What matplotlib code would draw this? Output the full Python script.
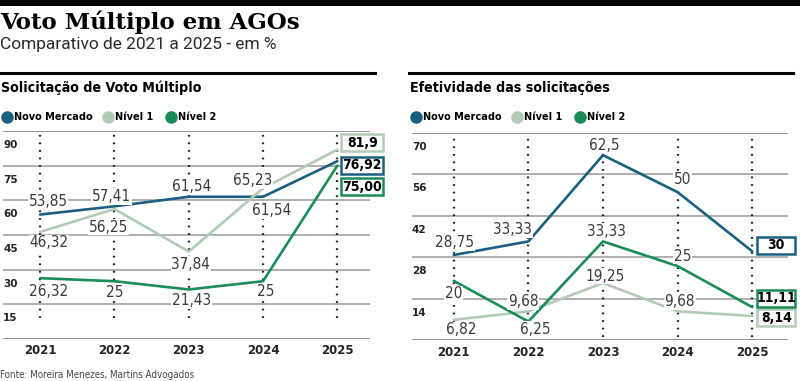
import matplotlib
matplotlib.use("Agg")
import matplotlib.pyplot as plt
from matplotlib import font_manager
from matplotlib.font_manager import FontProperties
from matplotlib.patches import Rectangle
from matplotlib.transforms import IdentityTransform

# ---- data ----
years = [2021, 2022, 2023, 2024, 2025]

# Solicitação de Voto Múltiplo (%)
sol_novo = [53.85, 57.41, 61.54, 61.54, 76.92]
sol_nivel1 = [46.32, 56.25, 37.84, 65.23, 81.9]
sol_nivel2 = [26.32, 25.0, 21.43, 25.0, 75.0]
sol_labels_novo = ["53,85", "57,41", "61,54", "61,54", "76,92"]
sol_labels_n1 = ["46,32", "56,25", "37,84", "65,23", "81,9"]
sol_labels_n2 = ["26,32", "25", "21,43", "25", "75,00"]

# Efetividade das solicitações (%)
efe_novo = [28.75, 33.33, 62.5, 50.0, 30.0]
efe_nivel1 = [6.82, 9.68, 19.25, 9.68, 8.14]
efe_nivel2 = [20.0, 6.25, 33.33, 25.0, 11.11]
efe_labels_novo = ["28,75", "33,33", "62,5", "50", "30"]
efe_labels_n1 = ["6,82", "9,68", "19,25", "9,68", "8,14"]
efe_labels_n2 = ["20", "6,25", "33,33", "25", "11,11"]

sol_ticks = [15, 30, 45, 60, 75, 90]
efe_ticks = [14, 28, 42, 56, 70]

# ---- style ----
C_NOVO = "#1b5f80"
C_N1 = "#b2cbb4"
C_N2 = "#1a8c56"

# find some condensed face on the system (fallback: DejaVu Sans)
fonts = font_manager.fontManager.ttflist


def narrow_face(bold):
    best = None
    for f in fonts:
        narrow = ("Narrow" in f.name or "Condensed" in f.name or
                  str(f.stretch) in ("condensed", "semi-condensed", "extra-condensed"))
        if not narrow or "Mono" in f.name or f.style != "normal":
            continue
        w = f.weight if isinstance(f.weight, int) else (700 if f.weight == "bold" else 400)
        if (w >= 600) != bold:
            continue
        score = abs(w - (700 if bold else 400))
        if best is None or score < best[0]:
            best = (score, f.fname)
    if best:
        return FontProperties(fname=best[1])
    return FontProperties(family="DejaVu Sans", weight="bold" if bold else "normal")


NR = narrow_face(False)
NB = narrow_face(True)


def fp(base, size):
    p = base.copy()
    p.set_size(size)
    return p


W, H = 800, 381
fig = plt.figure(figsize=(W / 100, H / 100), dpi=100)


def px_axes(x0, x1, ytop, ybot):
    return fig.add_axes([x0 / W, 1 - ybot / H, (x1 - x0) / W, (ybot - ytop) / H])


def fig_text(x, y, s, **kw):
    fig.text(x / W, 1 - y / H, s, **kw)


def hline_px(x0, x1, y, lw, color="black"):
    fig.add_artist(plt.Line2D([x0 / W, x1 / W], [1 - y / H, 1 - y / H],
                              transform=fig.transFigure, color=color, lw=lw))


# header
hline_px(0, 800, 2, 5)
fig_text(0, 22, "Voto Múltiplo em AGOs", fontsize=16.5, fontweight="heavy",
         family="DejaVu Serif", va="center", ha="left")
fig_text(0, 45, "Comparativo de 2021 a 2025 - em %", fontsize=12.5,
         family="Roboto", va="center", ha="left", color="#2a2a2a")
fig_text(0, 375, "Fonte: Moreira Menezes, Martins Advogados",
         fontproperties=fp(NR, 7), va="center", ha="left", color="#444444")


def panel(x0, x1, xl, ytop, ybot, ylim, ticks, dot_min, title,
          series, boxes, box_w, offsets):
    hline_px(x0 - 3, x1 + 5, 73, 2.2)
    fig_text(x0 - 2, 88, title, fontproperties=fp(NB, 10.2), va="center", ha="left")
    # legend
    for lx, lab, col in [(7, "Novo Mercado", C_NOVO), (108, "Nível 1", C_N1),
                         (171, "Nível 2", C_N2)]:
        fig.add_artist(plt.Line2D([(x0 - 3 + lx) / W], [1 - 117 / H], marker="o",
                                  markersize=8, color=col, lw=0,
                                  transform=fig.transFigure))
        fig_text(x0 - 3 + lx + 7, 117, lab, fontproperties=fp(NB, 7.8),
                 va="center", ha="left")

    ax = px_axes(x0, x1, ytop, ybot)
    ax.set_xlim(*xl)
    ax.set_ylim(0, ylim)
    for s in ax.spines.values():
        s.set_visible(False)
    ax.set_xticks([])
    ax.set_yticks([])
    for t in [0] + ticks:
        ax.axhline(t, color="#9a9a9a" if t not in (0, ylim) else "#777777",
                   lw=1.1, zorder=1)
        if t:
            ax.annotate(str(t), xy=(0, t), xycoords=("axes fraction", "data"),
                        xytext=(0, -14), textcoords="offset pixels",
                        fontsize=7.5, fontweight="bold", family="DejaVu Sans",
                        va="center", ha="left", color="#222222")
    ax.vlines(years, dot_min, ylim, colors="#222222", lw=1.6,
              linestyles=(0, (0.8, 2.6)), zorder=2)
    for y in years:
        ax.annotate(str(y), xy=(y, 0), xytext=(0, -12), textcoords="offset pixels",
                    fontsize=8.5, fontweight="bold", family="DejaVu Sans",
                    ha="center", va="center", color="#222222")

    for (vals, labs, col), offs, box in zip(series, offsets, boxes):
        ax.plot(years, vals, color=col, lw=1.9, zorder=3, solid_capstyle="round")
        for xv, v, lab, off in zip(years[:-1], vals[:-1], labs[:-1], offs):
            ax.annotate(lab, xy=(xv, v), xytext=off, textcoords="offset pixels",
                        fontproperties=fp(NR, 11), color="#3a3a3a",
                        ha="center", va="center", zorder=4,
                        bbox=dict(boxstyle="square,pad=0.05", fc="white", ec="none"))
        # boxed value for 2025, fixed size box
        px, py = ax.transData.transform((years[-1], vals[-1]))
        cx, cy = px + box[0], py + box[1]
        ax.add_artist(Rectangle((cx - box_w / 2, cy - 8.5), box_w, 17,
                                transform=IdentityTransform(), fc="white", ec=col,
                                lw=1.8, zorder=5, clip_on=False))
        ax.annotate(labs[-1], xy=(years[-1], vals[-1]), xytext=box,
                    textcoords="offset pixels", fontproperties=fp(NB, 10),
                    color="black", ha="center", va="center",
                    zorder=6, annotation_clip=False)
    return ax


panel(3, 370, (2020.5, 2025.44), 131, 339, 90, sol_ticks, 9,
      "Solicitação de Voto Múltiplo",
      [(sol_novo, sol_labels_novo, C_NOVO), (sol_nivel1, sol_labels_n1, C_N1),
       (sol_nivel2, sol_labels_n2, C_N2)],
      [(25, -4), (25, 7), (25, -21)], 42,
      [[(8, 13), (-3, 10), (3, 10), (9, -14)],
       [(9, -11), (-6, -18), (2, -13), (-10, 8)],
       [(8, -13), (0, -11), (3, -11), (3, -10)]])

panel(412, 788, (2020.44, 2025.48), 133, 340, 70, efe_ticks, 1,
      "Efetividade das solicitações",
      [(efe_novo, efe_labels_novo, C_NOVO), (efe_nivel1, efe_labels_n1, C_N1),
       (efe_nivel2, efe_labels_n2, C_N2)],
      [(24, 6), (24, -2), (24, 9)], 38,
      [[(1, 12), (-16, 12), (1, 10), (5, 13)],
       [(7, -10), (-5, 10), (2, 7), (2, 10)],
       [(0, -13), (7, -8), (3, 10), (5, 10)]])

fig.savefig("out.png", dpi=100)
